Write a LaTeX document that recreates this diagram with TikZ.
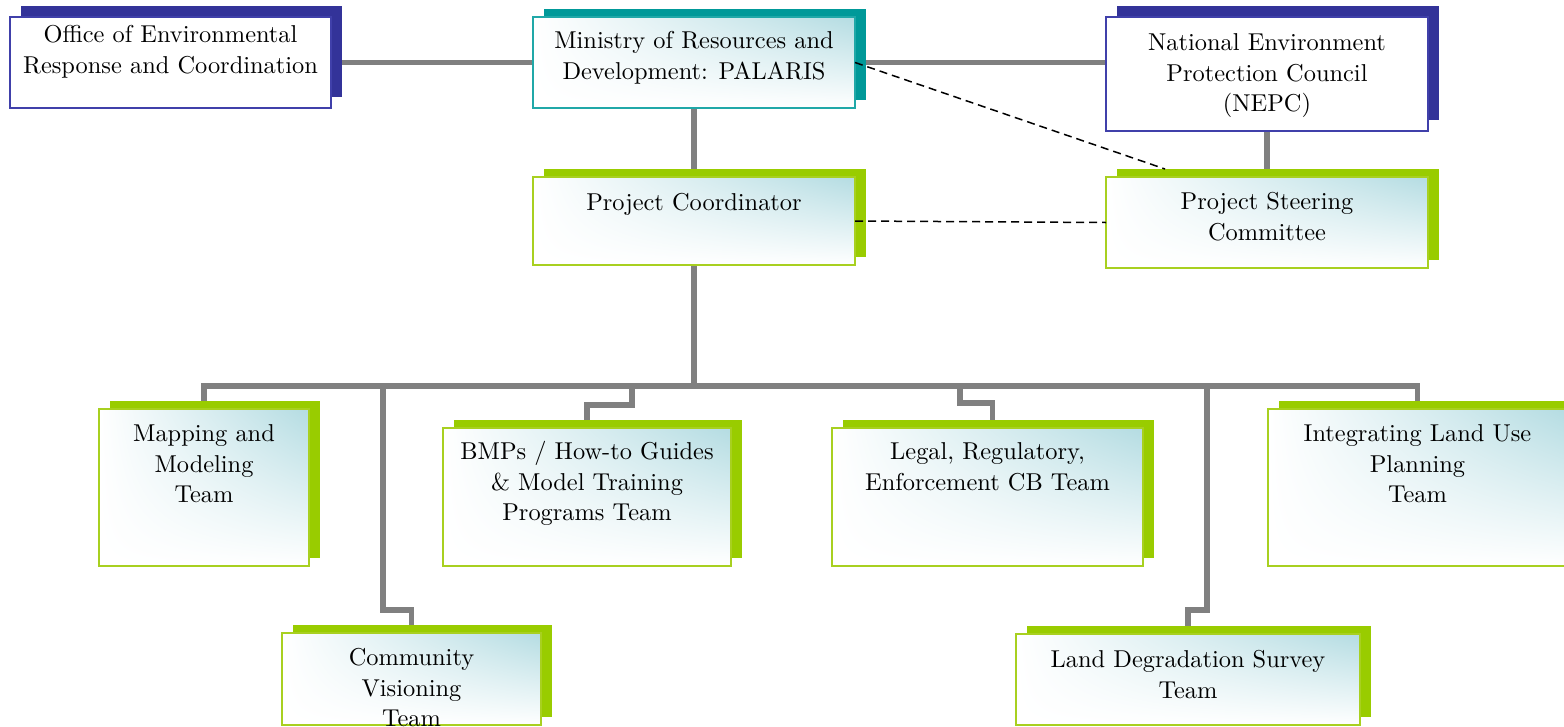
\documentclass[tikz,border=0pt]{standalone}
\usepackage{fontspec}
\setmainfont{lmroman10-regular.otf}
\usetikzlibrary{shadows,shadings,calc}
\pgfdeclarelayer{background}
\pgfsetlayers{background,main}
\definecolor{blueshadow}{RGB}{51,51,153}
\definecolor{blueborder}{RGB}{64,64,170}
\definecolor{tealshadow}{RGB}{0,153,153}
\definecolor{tealborder}{RGB}{32,168,168}
\definecolor{greenshadow}{RGB}{153,204,0}
\definecolor{greenborder}{RGB}{168,208,32}
\definecolor{shadeblue}{RGB}{180,220,226}
\definecolor{linkgray}{RGB}{128,128,128}
\newcommand\orgtext[4]{\parbox[t][#2][t]{#1}{\centering\vspace*{#3}\strut #4}}
\begin{document}
\begin{tikzpicture}[x=1pt,y=-1pt,
  font=\fontsize{24.4}{30.5}\selectfont,
  orgbox/.style={draw, line width=1.5pt, inner sep=0pt, outer sep=0pt},
  bluebox/.style={orgbox, draw=blueborder, fill=white,
    general shadow={fill=blueshadow, shadow xshift=11pt, shadow yshift=11pt}},
  shadedface/.style={upper left=white, lower left=white, lower right=white, upper right=shadeblue},
  tealbox/.style={orgbox, draw=tealborder, shadedface,
    general shadow={fill=tealshadow, shadow xshift=11pt, shadow yshift=8pt}},
  greenbox/.style={orgbox, draw=greenborder, shadedface,
    general shadow={fill=greenshadow, shadow xshift=11pt, shadow yshift=8pt}},
  link/.style={draw=linkgray, line width=5.5pt},
  dashlink/.style={draw=black, line width=1.5pt, dash pattern=on 8pt off 5pt}]
\useasboundingbox (0,0) rectangle (1564,726);
\clip (0,0) rectangle (1564,726);

% top row
\node[bluebox] (office) at (170.5,62.5)
  {\orgtext{321pt}{91pt}{4.6pt}{Office of Environmental\\Response and Coordination}};
\node[tealbox] (ministry) at (694,62.5)
  {\orgtext{322pt}{91pt}{10.2pt}{Ministry of Resources and\\Development: PALARIS}};
\node[bluebox] (nepc) at (1267,74)
  {\orgtext{322pt}{114pt}{12.6pt}{National Environment\\Protection Council\\(NEPC)}};

% second row
\node[greenbox] (coord) at (694,221)
  {\orgtext{322pt}{88pt}{12.6pt}{Project Coordinator}};
\node[greenbox] (steer) at (1267,222.5)
  {\orgtext{322pt}{91pt}{11.6pt}{Project Steering\\Committee}};

% teams
\node[greenbox] (mapping) at (204,487.5)
  {\orgtext{210pt}{157pt}{11.6pt}{Mapping and\\Modeling\\Team}};
\node[greenbox] (bmps) at (587,497)
  {\orgtext{288pt}{138pt}{10.6pt}{BMPs / How-to Guides\\\& Model Training\\Programs Team}};
\node[greenbox] (legal) at (987.5,497)
  {\orgtext{311pt}{138pt}{10.6pt}{Legal, Regulatory,\\Enforcement CB Team}};
\node[greenbox] (integ) at (1417.5,487.5)
  {\orgtext{299pt}{157pt}{11.6pt}{Integrating Land Use\\Planning\\Team}};
\node[greenbox] (community) at (411.5,679)
  {\orgtext{259pt}{92pt}{11.6pt}{Community\\Visioning\\Team}};
\node[greenbox] (land) at (1188,679.5)
  {\orgtext{344pt}{91pt}{12.6pt}{Land Degradation Survey\\Team}};

% helper coordinates
\coordinate (bus) at ($(coord.south)+(0,121)$);
\coordinate (cvjog) at (383,610);
\coordinate (ldjog) at (1207,610);
\coordinate (bmpjog) at (632,405);
\coordinate (legjog) at (960,403);
\coordinate (steertop) at ([xshift=59pt,yshift=8pt]steer.north west);

\begin{pgfonlayer}{background}
  \draw[link] (office.east) -- (ministry.west);
  \draw[link] (ministry.east) -- (ministry.east -| nepc.west);
  \draw[link] (ministry.south) -- (coord.north);
  \draw[link] (nepc.south) -- (steer.north);
  \draw[link] (coord.south) -- (bus);
  \draw[link] (mapping.north) |- (bus) -| (integ.north);
  \draw[link] (cvjog |- bus) -- (cvjog) -| (community.north);
  \draw[link] (ldjog |- bus) -- (ldjog) -| (land.north);
  \draw[link] (bmpjog |- bus) -- (bmpjog) -| (bmps.north);
  \draw[link] (legjog |- bus) -- (legjog) -| ([xshift=5pt]legal.north);
\end{pgfonlayer}

\draw[dashlink] (ministry.east) -- (steertop);
\draw[dashlink] (coord.east) -- (steer.west);
\end{tikzpicture}
\end{document}
